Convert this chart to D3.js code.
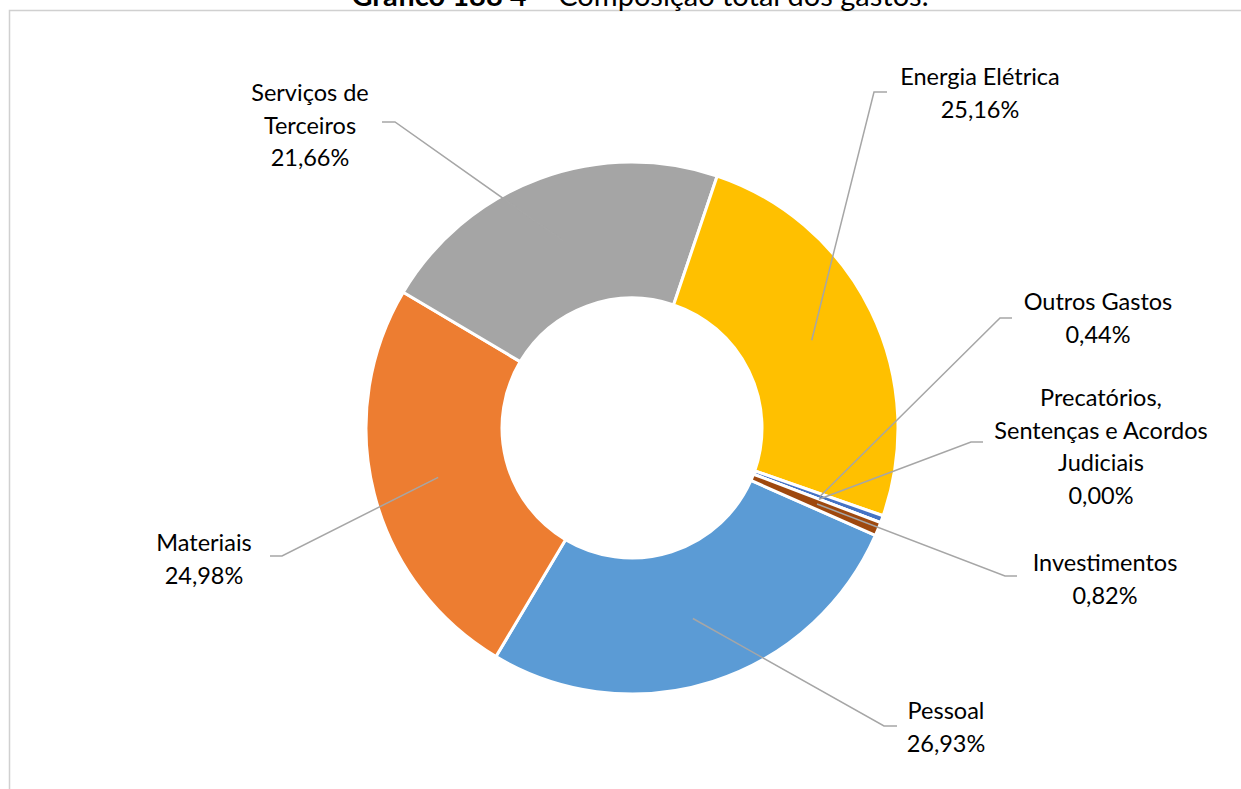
<!DOCTYPE html>
<html>
<head>
<meta charset="utf-8">
<script src="https://cdn.jsdelivr.net/npm/d3@7"></script>
<style>
  body { margin: 0; background: #fff; }
  svg { display: block; font-family: Lato, "Open Sans", sans-serif; }
  .label { font-size: 23.5px; fill: #000; }
  .title { font-size: 29px; fill: #000; }
</style>
</head>
<body>
<svg width="1241" height="789"></svg>
<script>
// data
var categories = ["Pessoal", "Materiais", "Serviços de Terceiros", "Energia Elétrica",
                  "Outros Gastos", "Precatórios, Sentenças e Acordos Judiciais", "Investimentos"];
var shares = [26.93, 24.98, 21.66, 25.16, 0.44, 0.00, 0.82];
var colors = ["#5B9BD5", "#ED7D31", "#A5A5A5", "#FFC000", "#4472C4", "#70AD47", "#9E480E"];
var labelLines = [
  ["Pessoal"],
  ["Materiais"],
  ["Serviços de", "Terceiros"],
  ["Energia Elétrica"],
  ["Outros Gastos"],
  ["Precatórios,", "Sentenças e Acordos", "Judiciais"],
  ["Investimentos"]
];

// label placement (text centre, first line centre, elbow of leader line)
var labelLayout = [
  {x: 946,  y: 710, ex: 897, ey: 726, dx: -13},
  {x: 204,  y: 542, ex: 270, ey: 556, dx: 12},
  {x: 310,  y: 92,  ex: 382, ey: 122, dx: 13},
  {x: 980,  y: 76,  ex: 887, ey: 92,  dx: -13},
  {x: 1098, y: 301, ex: 1012, ey: 318, dx: -12},
  {x: 1101, y: 397, ex: 983, ey: 442, dx: -12},
  {x: 1105, y: 562, ex: 1017, ey: 576, dx: -12}
];

var svg = d3.select("svg");
var cx = 632, cy = 428;
var outerR = 266, innerR = 130, lineHeight = 32.5;

var fmt = function(v) { return v.toFixed(2).replace(".", ",") + "%"; };

// border
svg.append("rect")
  .attr("x", 9.5).attr("y", 10.5)
  .attr("width", 1260).attr("height", 800)
  .attr("fill", "none")
  .attr("stroke", "#D0D0D0")
  .attr("stroke-width", 1.5);

// title (cut by the top of the picture)
var title = svg.append("text")
  .attr("class", "title")
  .attr("x", 640).attr("y", 6)
  .attr("text-anchor", "middle");
title.append("tspan").attr("font-weight", "bold").text("Gráfico 188 4");
title.append("tspan").text(" – Composição total dos gastos.");

var data = categories.map(function(c, i) {
  return {name: c, val: shares[i], color: colors[i], lines: labelLines[i], lay: labelLayout[i]};
});

var start = 113.8 * Math.PI / 180;
var pie = d3.pie()
  .sort(null)
  .value(function(d) { return d.val; })
  .startAngle(start)
  .endAngle(start + 2 * Math.PI);

var arc = d3.arc().innerRadius(innerR).outerRadius(outerR);
var midArc = d3.arc().innerRadius(200).outerRadius(200);

var g = svg.append("g").attr("transform", "translate(" + cx + "," + cy + ")");
var arcs = pie(data);

g.selectAll("path.slice")
  .data(arcs)
  .enter()
  .append("path")
  .attr("class", "slice")
  .attr("d", arc)
  .attr("fill", function(d) { return d.data.color; })
  .attr("stroke", "#fff")
  .attr("stroke-width", 3)
  .attr("stroke-linejoin", "round");

// leader lines
svg.selectAll("polyline.leader")
  .data(arcs)
  .enter()
  .append("polyline")
  .attr("class", "leader")
  .attr("fill", "none")
  .attr("stroke", "#A6A6A6")
  .attr("stroke-width", 1.5)
  .attr("points", function(d) {
    var lay = d.data.lay;
    var c = midArc.centroid(d);
    return [[lay.ex, lay.ey], [lay.ex + lay.dx, lay.ey], [cx + c[0], cy + c[1]]]
      .map(function(p) { return p.join(","); }).join(" ");
  });

// labels
var labels = svg.selectAll("text.label")
  .data(data)
  .enter()
  .append("text")
  .attr("class", "label")
  .attr("text-anchor", "middle");

labels.each(function(d) {
  var t = d3.select(this);
  var rows = d.lines.concat([fmt(d.val)]);
  rows.forEach(function(r, i) {
    t.append("tspan")
      .attr("x", d.lay.x)
      .attr("y", d.lay.y + i * lineHeight)
      .attr("dominant-baseline", "central")
      .text(r);
  });
});
</script>
</body>
</html>
